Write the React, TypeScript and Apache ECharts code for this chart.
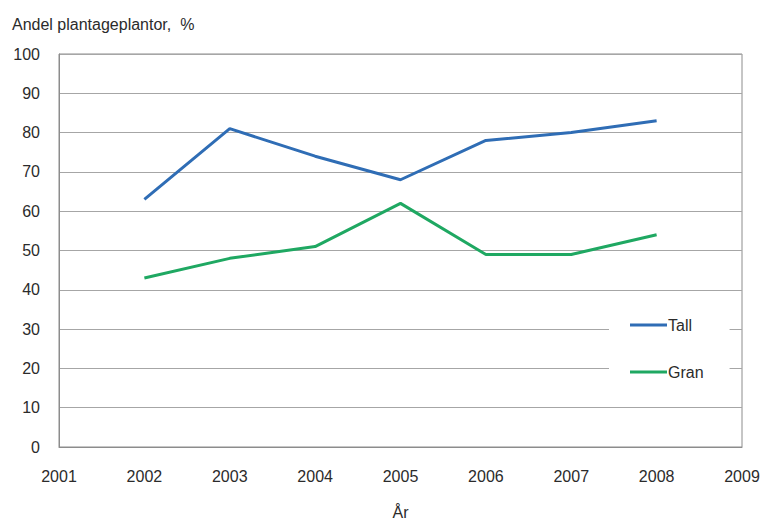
import React, { useEffect, useRef } from "react";
import * as echarts from "echarts";

// Share of nursery-grown plants per year, percent
const years = [2002, 2003, 2004, 2005, 2006, 2007, 2008];
const tall = [63, 81, 74, 68, 78, 80, 83];
const gran = [43, 48, 51, 62, 49, 49, 54];
const seriesNames = ["Tall", "Gran"];
const yTitle = "Andel plantageplantor,  %";
const xTitle = "År";

const FONT = "'Liberation Sans', Arial, sans-serif";
const TEXT = "#2b2b2b";

export default function App() {
  const ref = useRef<HTMLDivElement>(null);

  useEffect(() => {
    if (!ref.current) return;
    const chart = echarts.init(ref.current, undefined, { renderer: "svg" });
    chart.setOption({
      animation: false,
      backgroundColor: "#ffffff",
      textStyle: { fontFamily: FONT },
      title: {
        text: yTitle,
        left: 7,
        top: 11,
        textStyle: { fontFamily: FONT, fontSize: 16, fontWeight: "normal", color: TEXT },
      },
      grid: {
        left: 59,
        right: 22,
        top: 54,
        bottom: 73,
        show: true,
        borderColor: "#8c8c8c",
        borderWidth: 1,
        containLabel: false,
        outerBoundsMode: "none",
      },
      legend: {
        data: seriesNames,
        orient: "vertical",
        left: 609,
        top: 311,
        backgroundColor: "#ffffff",
        padding: [6, 26, 6, 21],
        itemGap: 31,
        itemWidth: 37,
        itemHeight: 3,
        icon: "rect",
        textStyle: { fontFamily: FONT, fontSize: 16, color: TEXT, padding: [0, 0, 0, -4] },
      },
      xAxis: {
        type: "value",
        min: 2001,
        max: 2009,
        interval: 1,
        name: xTitle,
        nameLocation: "middle",
        nameGap: 57,
        nameTextStyle: { fontFamily: FONT, fontSize: 16, color: TEXT },
        axisLine: { show: true, lineStyle: { color: "#8c8c8c", width: 1 } },
        axisTick: { show: false },
        splitLine: { show: false },
        axisLabel: {
          fontFamily: FONT,
          fontSize: 16,
          color: TEXT,
          margin: 21,
          showMinLabel: true,
          showMaxLabel: true,
          formatter: (v: number) => String(v),
        },
      },
      yAxis: {
        type: "value",
        min: 0,
        max: 100,
        interval: 10,
        axisLine: { show: true, lineStyle: { color: "#8c8c8c", width: 1 } },
        axisTick: { show: false },
        splitLine: { show: true, lineStyle: { color: "#a6a6a6", width: 1 } },
        axisLabel: { fontFamily: FONT, fontSize: 16, color: TEXT, margin: 19 },
      },
      series: [
        {
          name: seriesNames[0],
          type: "line",
          data: years.map((y, i) => [y, tall[i]]),
          symbol: "none",
          lineStyle: { color: "#2f6db5", width: 3 },
          itemStyle: { color: "#2f6db5" },
        },
        {
          name: seriesNames[1],
          type: "line",
          data: years.map((y, i) => [y, gran[i]]),
          symbol: "none",
          lineStyle: { color: "#1fa862", width: 3 },
          itemStyle: { color: "#1fa862" },
        },
      ],
    });
    return () => chart.dispose();
  }, []);

  return (
    <div style={{ position: "fixed", left: 0, top: 0, width: 764, height: 520, background: "#fff" }}>
      <div ref={ref} style={{ width: 764, height: 520 }} />
    </div>
  );
}
